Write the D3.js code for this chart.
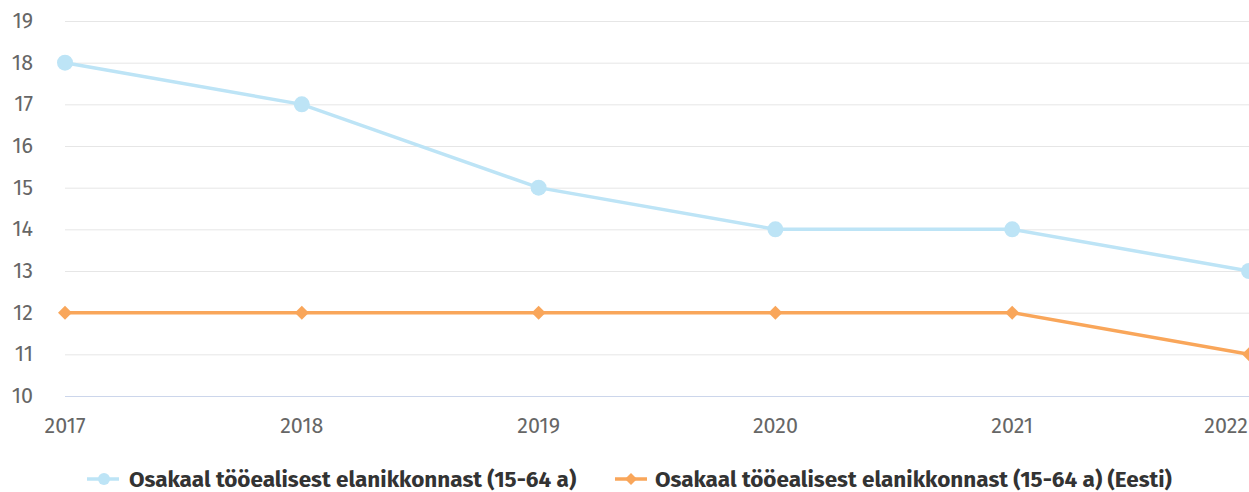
<!DOCTYPE html>
<html>
<head>
<meta charset="utf-8">
<script src="https://cdn.jsdelivr.net/npm/d3@7"></script>
<style>
  html, body { margin: 0; padding: 0; background: #fff; }
  #chart { width: 1249px; height: 492px; overflow: hidden; }
  text { font-family: "Fira Sans", Lato, "Open Sans", sans-serif; }
</style>
</head>
<body>
<div id="chart"></div>
<script>
// Data
const years = ["2017", "2018", "2019", "2020", "2021", "2022"];
const localShare = [18, 17, 15, 14, 14, 13];
const estoniaShare = [12, 12, 12, 12, 12, 11];
const yTicks = [10, 11, 12, 13, 14, 15, 16, 17, 18, 19];
const seriesNames = [
  "Osakaal tööealisest elanikkonnast (15-64 a)",
  "Osakaal tööealisest elanikkonnast (15-64 a) (Eesti)"
];
const seriesColors = ["#bde4f6", "#f9a65a"];

const width = 1249, height = 492;
const margin = {top: 21, right: 0, bottom: 96, left: 65};

const svg = d3.select("#chart").append("svg")
  .attr("width", width)
  .attr("height", height);

const x = d3.scalePoint()
  .domain(years)
  .range([margin.left, width - margin.right]);

const y = d3.scaleLinear()
  .domain([10, 19])
  .range([height - margin.bottom, margin.top]);

// grid lines
svg.append("g")
  .selectAll("line")
  .data(yTicks)
  .enter()
  .append("line")
  .attr("x1", margin.left)
  .attr("x2", width)
  .attr("y1", d => y(d) + 0.5)
  .attr("y2", d => y(d) + 0.5)
  .attr("stroke", d => d === 10 ? "#ccd6eb" : "#e6e6e6")
  .attr("stroke-width", 1);

// y labels
svg.append("g")
  .selectAll("text")
  .data(yTicks)
  .enter()
  .append("text")
  .attr("x", 33)
  .attr("y", d => y(d) + 7)
  .attr("text-anchor", "end")
  .attr("fill", "#666")
  .style("font-size", "21.5px")
  .text(d => d);

// x labels
svg.append("g")
  .selectAll("text")
  .data(years)
  .enter()
  .append("text")
  .attr("x", (d, i) => i === years.length - 1 ? width - 1 : x(d))
  .attr("y", 433)
  .attr("text-anchor", (d, i) => i === years.length - 1 ? "end" : "middle")
  .attr("fill", "#666")
  .style("font-size", "21.5px")
  .text(d => d);

const line = d3.line()
  .x((d, i) => x(years[i]))
  .y(d => y(d));

const diamond = r => `M0,${-r}L${r},0L0,${r}L${-r},0Z`;

// series 1 (blue, circles)
svg.append("path")
  .datum(localShare)
  .attr("d", line)
  .attr("fill", "none")
  .attr("stroke", seriesColors[0])
  .attr("stroke-width", 3.5);

svg.append("g")
  .selectAll("circle")
  .data(localShare)
  .enter()
  .append("circle")
  .attr("cx", (d, i) => x(years[i]))
  .attr("cy", d => y(d))
  .attr("r", 8)
  .attr("fill", seriesColors[0]);

// series 2 (orange, diamonds)
svg.append("path")
  .datum(estoniaShare)
  .attr("d", line)
  .attr("fill", "none")
  .attr("stroke", seriesColors[1])
  .attr("stroke-width", 3.5);

svg.append("g")
  .selectAll("path")
  .data(estoniaShare)
  .enter()
  .append("path")
  .attr("transform", (d, i) => `translate(${x(years[i])},${y(d)})`)
  .attr("d", diamond(7))
  .attr("fill", seriesColors[1]);

// legend
const legendY = 479;
const legendItems = [
  {x: 87, textX: 129, name: seriesNames[0], color: seriesColors[0], shape: "circle"},
  {x: 615, textX: 655, name: seriesNames[1], color: seriesColors[1], shape: "diamond"}
];
const legend = svg.append("g");
legendItems.forEach(item => {
  legend.append("line")
    .attr("x1", item.x)
    .attr("x2", item.x + 32)
    .attr("y1", legendY)
    .attr("y2", legendY)
    .attr("stroke", item.color)
    .attr("stroke-width", 3.5);
  if (item.shape === "circle") {
    legend.append("circle")
      .attr("cx", item.x + 17)
      .attr("cy", legendY)
      .attr("r", 6)
      .attr("fill", item.color);
  } else {
    legend.append("path")
      .attr("transform", `translate(${item.x + 16},${legendY})`)
      .attr("d", diamond(6))
      .attr("fill", item.color);
  }
  legend.append("text")
    .attr("x", item.textX)
    .attr("y", legendY + 8)
    .attr("fill", "#333")
    .style("font-size", "22.5px")
    .style("font-weight", "bold")
    .text(item.name);
});
</script>
</body>
</html>
